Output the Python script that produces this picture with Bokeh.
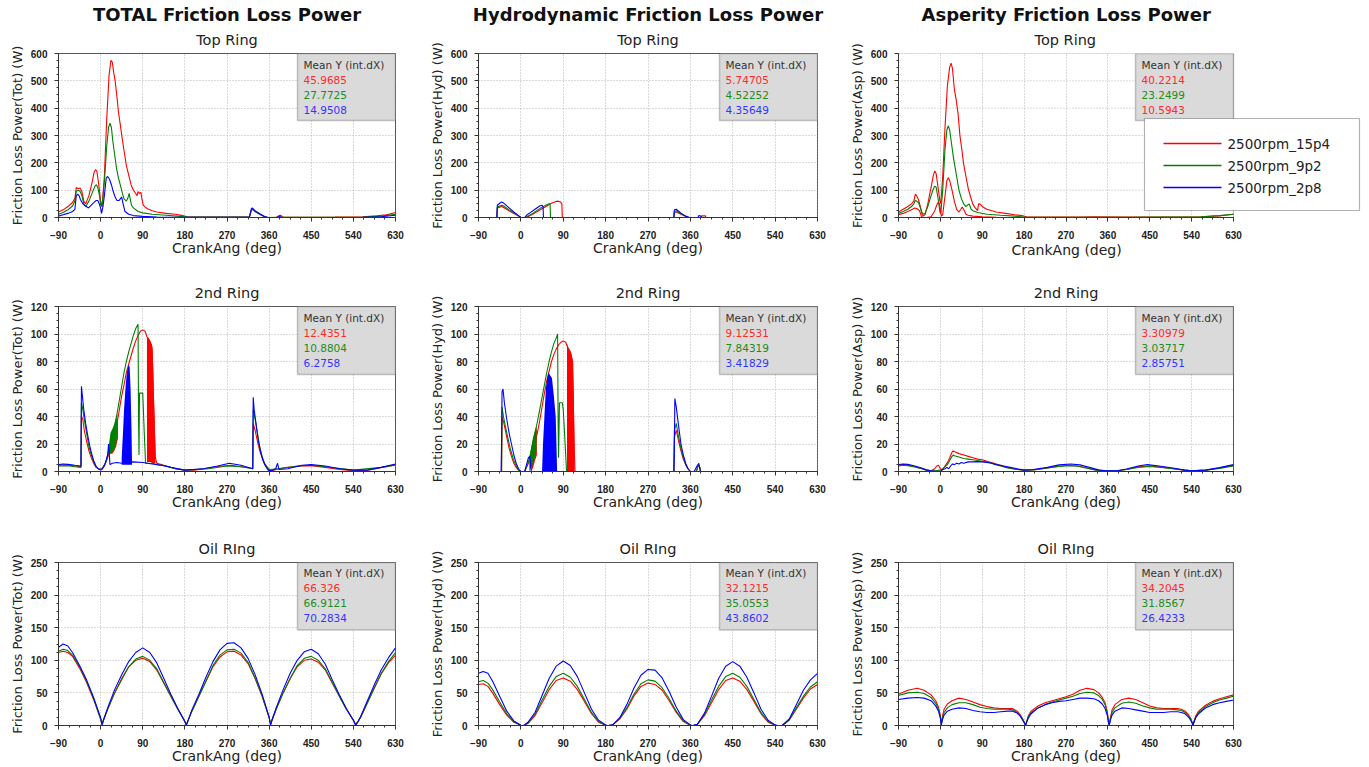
from bokeh.plotting import figure
from bokeh.layouts import row, column
from bokeh.models import Range1d, FixedTicker, Title, Label, BoxAnnotation
from bokeh.embed import file_html
from bokeh.resources import INLINE

# ---------------- text / labels ----------------
SERIES_NAMES = ["2500rpm_15p4", "2500rpm_9p2", "2500rpm_2p8"]
HEADERS = ["TOTAL Friction Loss Power", "Hydrodynamic Friction Loss Power", "Asperity Friction Loss Power"]
RING_TITLES = ["Top Ring", "2nd Ring", "Oil RIng"]
Y_LABELS = ["Friction Loss Power(Tot) (W)", "Friction Loss Power(Hyd) (W)", "Friction Loss Power(Asp) (W)"]
X_LABEL = "CrankAng (deg)"
MEAN_TITLE = "Mean Y (int.dX)"

X_TICKS = [-90, 0, 90, 180, 270, 360, 450, 540, 630]
X_MINOR = [-90, -67.5, -45, -22.5, 0, 22.5, 45, 67.5, 90, 112.5, 135, 157.5, 180, 202.5, 225, 247.5,
           270, 292.5, 315, 337.5, 360, 382.5, 405, 427.5, 450, 472.5, 495, 517.5, 540, 562.5, 585, 607.5, 630]
Y_TICKS = [[0, 100, 200, 300, 400, 500, 600], [0, 20, 40, 60, 80, 100, 120], [0, 50, 100, 150, 200, 250]]
Y_MINOR = [[0, 25, 50, 75, 100, 125, 150, 175, 200, 225, 250, 275, 300, 325, 350, 375, 400, 425, 450, 475, 500, 525, 550, 575, 600],
           [0, 5, 10, 15, 20, 25, 30, 35, 40, 45, 50, 55, 60, 65, 70, 75, 80, 85, 90, 95, 100, 105, 110, 115, 120],
           [0, 12.5, 25, 37.5, 50, 62.5, 75, 87.5, 100, 112.5, 125, 137.5, 150, 162.5, 175, 187.5, 200, 212.5, 225, 237.5, 250]]
Y_MAX = [600, 120, 250]

# Mean Y (int.dX) values [row][series]
TOT_MEANS = [["45.9685", "27.7725", "14.9508"], ["12.4351", "10.8804", "6.2758"], ["66.326", "66.9121", "70.2834"]]
HYD_MEANS = [["5.74705", "4.52252", "4.35649"], ["9.12531", "7.84319", "3.41829"], ["32.1215", "35.0553", "43.8602"]]
ASP_MEANS = [["40.2214", "23.2499", "10.5943"], ["3.30979", "3.03717", "2.85751"], ["34.2045", "31.8567", "26.4233"]]

# ---------------- TOTAL: Top ring ----------------
TOT_TOP_R_X = [-90, -80, -70, -60, -55, -52, -48, -44, -40, -36, -32, -25, -18, -14, -11, -8, -4, 0, 3, 8, 13, 18, 22, 25, 28, 31, 35, 38, 42, 45, 50, 55, 60, 65, 70, 75, 78, 80, 83, 86, 88, 91, 95, 100, 110, 120, 140, 160, 175, 185, 200, 250, 300, 318, 322, 324, 330, 340, 350, 355, 375, 380, 384, 390, 420, 500, 560, 590, 610, 620, 630]
TOT_TOP_R_Y = [20, 28, 40, 55, 70, 110, 105, 108, 95, 60, 50, 80, 130, 165, 175, 170, 120, 60, 40, 150, 360, 520, 575, 568, 530, 500, 440, 387, 340, 302, 245, 190, 155, 120, 100, 88, 80, 95, 88, 92, 70, 45, 38, 32, 25, 20, 15, 12, 7, 3, 2, 2, 2, 3, 28, 32, 22, 12, 3, 0, 0, 6, 8, 2, 1, 2, 3, 6, 10, 14, 18]
TOT_TOP_G_X = [-90, -80, -70, -60, -55, -52, -48, -44, -40, -36, -32, -25, -18, -12, -9, -6, -2, 0, 3, 8, 13, 17, 20, 23, 26, 30, 34, 38, 42, 46, 50, 55, 58, 61, 63, 66, 70, 80, 90, 110, 140, 170, 185, 300, 318, 322, 324, 330, 340, 350, 358, 380, 420, 500, 560, 600, 630]
TOT_TOP_G_Y = [12, 18, 28, 42, 60, 95, 100, 96, 80, 50, 40, 60, 90, 115, 120, 110, 75, 45, 40, 130, 260, 330, 345, 330, 280, 230, 180, 145, 119, 92, 68, 60, 70, 88, 70, 45, 35, 22, 17, 12, 8, 4, 2, 2, 3, 25, 30, 22, 12, 4, 0, 1, 1, 1, 2, 5, 12]
TOT_TOP_B_X = [-90, -80, -70, -60, -55, -52, -49, -46, -43, -38, -32, -26, -20, -14, -10, -6, -3, 0, 2, 5, 8, 12, 15, 19, 23, 27, 31, 35, 39, 42, 45, 48, 52, 60, 70, 90, 120, 180, 300, 318, 322, 324, 330, 340, 350, 358, 378, 382, 386, 420, 560, 600, 630]
TOT_TOP_B_Y = [5, 10, 15, 22, 30, 80, 85, 80, 65, 50, 42, 35, 45, 55, 62, 62, 50, 35, 15, 40, 80, 145, 150, 140, 120, 95, 75, 62, 62, 68, 75, 50, 22, 12, 7, 4, 2, 1, 1, 2, 32, 35, 25, 14, 4, 0, 0, 5, 1, 0, 1, 3, 8]

# ---------------- TOTAL: 2nd ring ----------------
TOT_2ND_R_X = [-90, -70, -55, -42, -41, -38, -35, -30, -25, -20, -15, -10, -5, 0, 5, 10, 15, 20, 25, 30, 35, 40, 45, 50, 55, 60, 65, 70, 75, 80, 85, 90, 95, 99, 105, 110, 114, 117, 120, 130, 140, 160, 180, 200, 230, 260, 280, 300, 320, 325, 326, 330, 335, 340, 345, 350, 355, 360, 370, 380, 400, 430, 450, 480, 510, 540, 570, 600, 630]
TOT_2ND_R_Y = [4.5, 4.8, 4, 3.5, 40, 38, 30, 22, 15, 10, 6, 3, 2, 1.5, 3, 6, 10, 16, 22, 28, 35, 45, 55, 63, 72, 78, 84, 90, 95, 99, 102, 103, 102, 98, 95, 90, 40, 10, 6, 5, 4, 2, 1, 1, 2.5, 4, 4.5, 3.5, 2.5, 2, 35, 30, 22, 15, 10, 6, 3, 1, 1, 2, 3, 4, 4.2, 3, 1.5, 0.5, 1, 3, 5]
TOT_2ND_G_X = [-90, -70, -55, -42, -41, -38, -35, -30, -25, -20, -15, -10, -5, 0, 5, 10, 15, 20, 25, 30, 35, 40, 45, 50, 55, 60, 65, 70, 75, 80, 81, 82, 83, 90, 93, 96, 100, 110, 120, 140, 160, 180, 230, 270, 300, 325, 326, 330, 335, 340, 345, 350, 360, 380, 420, 450, 480, 540, 600, 630]
TOT_2ND_G_Y = [4, 4.2, 3.5, 3, 50, 45, 38, 28, 18, 12, 7, 4, 2, 1.5, 3, 6, 12, 20, 27, 34, 42, 52, 62, 72, 80, 87, 93, 99, 104, 107, 40, 12, 57, 57, 30, 6, 6, 6, 5, 4, 2, 1, 2, 4, 3.5, 2, 45, 38, 28, 18, 11, 6, 1.5, 2, 4, 4.5, 3.5, 1, 3, 4.5]
TOT_2ND_B_X = [-90, -80, -70, -55, -42, -41, -39, -36, -32, -28, -24, -20, -15, -10, -5, 0, 3, 8, 12, 15, 17, 20, 25, 35, 45, 70, 90, 110, 130, 150, 180, 220, 250, 275, 300, 325, 326, 328, 332, 337, 342, 347, 352, 358, 365, 374, 378, 381, 400, 430, 450, 480, 510, 540, 570, 600, 630]
TOT_2ND_B_Y = [5, 5.5, 5.2, 4.5, 4, 62, 55, 45, 35, 27, 20, 14, 8, 4, 2, 1, 1.5, 4, 8, 12, 20, 5, 6, 6.5, 6, 7, 6.5, 5.5, 4.5, 3, 1, 2, 4, 6, 4.5, 2, 54, 45, 35, 22, 14, 8, 4, 1, 0.5, 2, 6, 1.5, 2, 4.5, 5, 4, 2, 1, 1, 3, 5.5]
# dense-oscillation envelopes (drawn as filled bands)
TOT_2ND_R_BAND1_X = [21, 25, 29, 33, 37]
TOT_2ND_R_BAND1_LO = [13, 13, 15, 18, 24]
TOT_2ND_R_BAND1_HI = [16, 26, 30, 34, 38]
TOT_2ND_G_BAND_X = [18, 21, 25, 29, 33, 36]
TOT_2ND_G_BAND_LO = [12, 13, 14, 16, 20, 26]
TOT_2ND_G_BAND_HI = [20, 28, 31, 34, 38, 42]
TOT_2ND_R_BAND2_X = [99, 103, 107, 110, 112, 114, 116, 117]
TOT_2ND_R_BAND2_LO = [7, 7, 7, 6, 6, 6, 6, 6]
TOT_2ND_R_BAND2_HI = [98, 97, 94, 92, 80, 55, 30, 15]
TOT_2ND_B_BAND_X = [45, 48, 50, 53, 56, 60, 62, 64, 66, 67]
TOT_2ND_B_BAND_LO = [5, 5, 5, 5, 5, 5, 5, 5, 5, 5]
TOT_2ND_B_BAND_HI = [10, 30, 45, 60, 72, 78, 76, 60, 30, 8]

# ---------------- Oil ring grid (TOTAL & HYD) ----------------
OIL_X = [-90, -80, -70, -60, -45, -30, -15, 0, 3, 6, 15, 30, 45, 60, 75, 90, 105, 120, 135, 150, 165, 180, 183, 186, 195, 210, 225, 240, 255, 270, 285, 300, 315, 330, 345, 360, 363, 366, 375, 390, 405, 420, 435, 450, 465, 480, 495, 510, 525, 540, 545, 550, 555, 570, 585, 600, 615, 630]
TOT_OIL_R = [112, 114, 112, 106, 88, 66, 40, 10, 3, 8, 25, 50, 72, 90, 100, 103, 98, 85, 65, 45, 25, 6, 2, 6, 22, 45, 68, 90, 105, 113, 114, 108, 95, 72, 45, 12, 3, 8, 25, 50, 72, 90, 100, 102, 97, 85, 65, 45, 25, 8, 2, 6, 12, 35, 58, 80, 96, 108]
TOT_OIL_G = [114, 117, 115, 108, 90, 68, 41, 10, 2, 8, 25, 50, 70, 90, 102, 106, 100, 87, 66, 45, 25, 6, 1, 6, 22, 45, 68, 92, 108, 116, 117, 111, 97, 73, 45, 12, 2, 8, 25, 50, 72, 92, 103, 106, 100, 87, 66, 45, 25, 8, 1, 6, 12, 35, 58, 80, 98, 112]
TOT_OIL_B = [120, 125, 122, 112, 92, 70, 43, 12, 0, 8, 27, 55, 78, 98, 112, 119, 112, 96, 72, 48, 26, 6, 0, 6, 24, 48, 74, 98, 116, 126, 127, 119, 103, 78, 48, 13, 0, 8, 27, 55, 80, 100, 113, 117, 110, 94, 70, 47, 26, 8, 0, 6, 13, 38, 63, 86, 104, 119]
HYD_OIL_R = [63, 64, 60, 50, 32, 16, 5, 0.5, 0, 0, 3, 15, 35, 55, 69, 73, 68, 55, 37, 18, 5, 0.5, 0, 0, 1, 10, 25, 45, 60, 65, 63, 54, 38, 20, 6, 0.5, 0, 0, 2, 15, 35, 55, 69, 73, 68, 55, 37, 18, 5, 0.5, 0, 0, 0, 8, 25, 42, 56, 63]
HYD_OIL_G = [67, 69, 65, 55, 36, 18, 6, 0.5, 0, 0, 4, 17, 39, 60, 75, 80, 74, 60, 40, 20, 6, 0.5, 0, 0, 1, 11, 27, 48, 64, 70, 68, 58, 41, 22, 7, 0.5, 0, 0, 2, 17, 39, 60, 75, 80, 74, 60, 40, 20, 6, 0.5, 0, 0, 0, 9, 27, 45, 59, 67]
HYD_OIL_B = [80, 83, 80, 68, 45, 22, 7, 0.5, 0, 0, 5, 20, 46, 72, 91, 99, 92, 75, 50, 25, 8, 1, 0, 0, 1, 12, 32, 57, 77, 86, 85, 73, 52, 28, 9, 1, 0, 0, 2, 19, 45, 72, 91, 98, 91, 74, 50, 25, 8, 1, 0, 0, 0, 10, 32, 54, 70, 80]

# ---------------- HYD: Top ring ----------------
HYD_TOP_R_X = [-90, -51, -50, -45, -40, -35, -25, -15, -5, 0, 10, 15, 25, 35, 45, 55, 65, 72, 78, 84, 87, 88, 325, 326, 330, 340, 350, 356, 383, 384, 392, 393, 630]
HYD_TOP_R_Y = [0, 0, 35, 38, 40, 35, 25, 15, 5, 0, 0, 3, 12, 22, 32, 42, 52, 57, 60, 57, 50, 0, 0, 18, 20, 12, 4, 0, 0, 6, 6, 0, 0]
HYD_TOP_G_X = [-90, -51, -50, -45, -40, -35, -25, -15, -5, 0, 10, 15, 25, 35, 45, 55, 60, 62, 63, 325, 326, 330, 340, 350, 357, 630]
HYD_TOP_G_Y = [0, 0, 38, 42, 45, 40, 28, 17, 6, 0, 0, 5, 15, 27, 38, 47, 50, 50, 0, 0, 22, 25, 14, 5, 0, 0]
HYD_TOP_B_X = [-90, -51, -50, -45, -41, -36, -25, -15, -5, 0, 8, 12, 20, 30, 40, 45, 47, 48, 325, 326, 330, 340, 350, 358, 376, 378, 382, 384, 630]
HYD_TOP_B_Y = [0, 0, 45, 52, 57, 52, 35, 20, 7, 0, 0, 8, 18, 30, 42, 45, 40, 0, 0, 28, 30, 16, 5, 0, 0, 7, 5, 0, 0]

# ---------------- HYD: 2nd ring ----------------
HYD_2ND_R_X = [-90, -41, -40, -36, -30, -25, -20, -15, -10, -5, 0, 8, 12, 16, 20, 25, 30, 35, 40, 45, 50, 55, 60, 65, 70, 75, 80, 85, 90, 95, 100, 105, 110, 113, 115, 325, 326, 330, 335, 340, 345, 350, 355, 360, 372, 376, 380, 382, 630]
HYD_2ND_R_Y = [0, 0, 40, 35, 25, 17, 11, 6, 3, 1, 0, 0, 3, 6, 8, 12, 20, 28, 37, 47, 57, 66, 73, 80, 85, 89, 92, 94, 95, 94, 90, 87, 80, 20, 0, 0, 25, 30, 22, 15, 9, 5, 2, 0, 0, 4, 3, 0, 0]
HYD_2ND_G_X = [-90, -41, -40, -37, -33, -28, -22, -16, -10, -5, 0, 8, 12, 16, 20, 25, 30, 35, 40, 45, 50, 55, 60, 65, 70, 75, 78, 79, 80, 82, 88, 90, 94, 97, 325, 326, 330, 335, 340, 345, 350, 355, 360, 373, 377, 380, 382, 630]
HYD_2ND_G_Y = [0, 0, 47, 40, 33, 25, 16, 9, 4, 1, 0, 0, 3, 7, 12, 20, 28, 36, 45, 54, 63, 72, 80, 87, 93, 97, 100, 40, 10, 50, 50, 45, 20, 0, 0, 30, 35, 25, 17, 10, 5, 2, 0, 0, 5, 3, 0, 0]
HYD_2ND_B_X = [-90, -42, -41, -40, -38, -35, -30, -25, -20, -15, -10, -5, 0, 8, 12, 16, 19, 22, 325, 326, 327, 330, 335, 340, 345, 350, 355, 360, 368, 374, 378, 381, 630]
HYD_2ND_B_Y = [0, 0, 22, 58, 60, 50, 38, 28, 20, 12, 6, 2, 0, 0, 5, 10, 11, 0, 0, 15, 53, 47, 33, 20, 12, 6, 2, 0, 0, 4, 6, 0, 0]
HYD_2ND_R_BAND1_X = [22, 26, 30, 34]
HYD_2ND_R_BAND1_LO = [0, 3, 8, 12]
HYD_2ND_R_BAND1_HI = [10, 20, 28, 32]
HYD_2ND_G_BAND_X = [18, 22, 26, 30, 33]
HYD_2ND_G_BAND_LO = [0, 3, 6, 10, 15]
HYD_2ND_G_BAND_HI = [10, 18, 25, 30, 33]
HYD_2ND_R_BAND2_X = [98, 101, 104, 107, 110, 112, 114]
HYD_2ND_R_BAND2_LO = [0, 0, 0, 0, 0, 0, 0]
HYD_2ND_R_BAND2_HI = [93, 90, 88, 86, 80, 60, 20]
HYD_2ND_B_BAND_X = [45, 47, 50, 53, 56, 59, 62, 66, 70, 74, 77]
HYD_2ND_B_BAND_LO = [0, 0, 0, 0, 0, 0, 0, 0, 0, 0, 0]
HYD_2ND_B_BAND_HI = [0, 20, 40, 60, 68, 72, 70, 68, 55, 40, 0]

# ---------------- ASP: Top ring ----------------
ASP_TOP_R_X = [-90, -80, -70, -62, -57, -54, -51, -47, -43, -40, -37, -33, -27, -20, -15, -12, -9, -5, -1, 1, 5, 10, 15, 20, 23, 26, 30, 34, 38, 42, 46, 50, 55, 60, 65, 70, 75, 80, 82, 86, 90, 95, 100, 120, 140, 160, 175, 185, 200, 300, 330, 400, 560, 600, 620, 630]
ASP_TOP_R_Y = [20, 30, 40, 50, 60, 85, 80, 65, 40, 15, 5, 10, 50, 110, 155, 170, 160, 110, 60, 50, 150, 330, 480, 550, 565, 545, 470, 430, 380, 300, 250, 195, 150, 105, 75, 48, 35, 25, 50, 48, 40, 35, 30, 20, 15, 10, 7, 3, 2, 2, 3, 2, 3, 6, 10, 12]
ASP_TOP_G_X = [-90, -80, -70, -62, -57, -54, -51, -47, -43, -40, -37, -33, -27, -20, -15, -12, -9, -5, -1, 1, 5, 10, 14, 17, 20, 24, 28, 32, 36, 40, 45, 50, 55, 58, 62, 66, 70, 80, 100, 130, 160, 180, 220, 400, 560, 600, 630]
ASP_TOP_G_Y = [15, 22, 30, 40, 50, 62, 60, 55, 35, 20, 12, 15, 40, 80, 105, 115, 110, 70, 20, 15, 100, 250, 320, 335, 320, 270, 220, 180, 140, 100, 70, 50, 40, 45, 50, 30, 25, 18, 12, 8, 5, 2, 1, 1, 3, 7, 12]
ASP_TOP_B_X = [-90, -80, -70, -60, -55, -50, -45, -41, -38, -30, -20, -12, -8, -5, -2, 0, 2, 5, 10, 14, 17, 20, 25, 30, 35, 40, 44, 47, 50, 55, 60, 70, 90, 120, 180, 630]
ASP_TOP_B_Y = [10, 15, 22, 30, 35, 32, 25, 5, 0, 0, 3, 25, 45, 55, 50, 30, 5, 10, 80, 135, 145, 135, 100, 60, 30, 20, 30, 38, 30, 12, 8, 5, 3, 1, 0, 0]

# ---------------- ASP: 2nd ring ----------------
ASP_2ND_R_X = [-90, -80, -70, -55, -40, -30, -20, -12, -8, -4, 0, 5, 8, 12, 16, 20, 25, 27, 30, 40, 50, 60, 70, 80, 90, 100, 110, 120, 130, 140, 150, 165, 180, 200, 230, 255, 275, 295, 315, 335, 350, 380, 400, 425, 450, 475, 500, 525, 540, 570, 600, 630]
ASP_2ND_R_Y = [4.5, 5, 4.8, 3.5, 2, 1, 0.5, 2, 4, 4.5, 2, 1, 3, 5, 7, 10, 14, 15, 14.5, 13, 12, 11, 10, 9, 8.5, 7.5, 6.5, 5.5, 4.5, 3.5, 2.5, 1.5, 1, 1.2, 2.5, 3.8, 4.5, 4, 2.5, 1, 0.5, 0.5, 1.5, 3.5, 4, 3.2, 2, 1, 0.5, 1, 2.5, 4.5]
ASP_2ND_G_X = [-90, -80, -70, -55, -40, -30, -20, -10, 0, 5, 10, 15, 20, 25, 28, 30, 40, 50, 60, 70, 80, 90, 100, 110, 120, 130, 140, 150, 165, 180, 200, 230, 255, 275, 295, 315, 335, 350, 380, 400, 425, 450, 475, 500, 525, 540, 570, 600, 630]
ASP_2ND_G_Y = [4, 4.5, 4.3, 3.3, 2, 1, 0.5, 0.5, 1, 2, 3.5, 5, 8, 11, 12, 11.5, 10.5, 9.5, 9, 8.5, 8, 7.5, 7, 6, 5, 4, 3, 2.2, 1.4, 1, 1.2, 2.5, 3.7, 4.2, 3.8, 2.4, 1, 0.5, 0.5, 1.4, 3, 3.6, 3, 2, 1, 0.5, 1, 2.3, 4]
ASP_2ND_B_X = [-90, -80, -70, -55, -40, -30, -20, -10, 0, 5, 10, 14, 18, 22, 26, 30, 35, 40, 45, 50, 60, 70, 80, 90, 100, 110, 120, 135, 150, 165, 180, 200, 230, 255, 280, 300, 320, 340, 355, 380, 400, 425, 445, 470, 500, 525, 540, 570, 600, 630]
ASP_2ND_B_Y = [5, 5.5, 5.2, 4, 2.5, 1.2, 0.5, 0.2, 0, 1.5, 2, 3, 2, 4, 5.5, 5, 6, 5.5, 6.5, 6, 7, 7, 7.2, 7, 6.5, 6, 5, 4, 3, 2, 1, 1.5, 3, 4.8, 5.5, 4.8, 3, 1.2, 0.5, 0.5, 1.8, 4, 5, 4, 2.5, 1, 0.5, 1, 2.8, 5]

# ---------------- ASP: Oil ring ----------------
ASP_OIL_X = [-90, -70, -50, -35, -20, -10, -4, 0, 2, 4, 8, 15, 25, 40, 55, 70, 85, 100, 115, 130, 145, 155, 165, 172, 177, 181, 183, 185, 189, 195, 210, 225, 240, 255, 270, 285, 300, 315, 330, 340, 348, 354, 359, 361, 363, 365, 369, 375, 390, 405, 420, 435, 450, 465, 480, 495, 510, 518, 526, 533, 538, 541, 543, 545, 549, 555, 570, 585, 600, 615, 630]
ASP_OIL_R = [48, 54, 57, 54, 47, 38, 28, 15, 1, 12, 25, 33, 38, 42, 40, 36, 32, 29, 27, 26, 26, 26, 22, 16, 10, 4, 1, 5, 15, 22, 30, 35, 38, 41, 44, 48, 54, 57, 55, 50, 43, 35, 20, 8, 1, 10, 24, 32, 40, 42, 40, 35, 30, 27, 26, 26, 26, 25, 22, 17, 11, 5, 1, 6, 15, 22, 31, 37, 41, 44, 47]
ASP_OIL_G = [46, 50, 51, 49, 43, 34, 25, 13, 1, 10, 20, 27, 32, 35, 35, 32, 28, 26, 25, 25, 25, 24, 20, 15, 9, 4, 1, 5, 13, 20, 27, 32, 36, 39, 42, 45, 49, 51, 50, 46, 40, 32, 18, 7, 1, 9, 20, 27, 34, 36, 34, 30, 27, 25, 25, 25, 24, 23, 20, 15, 10, 5, 1, 6, 13, 20, 29, 35, 39, 42, 45]
ASP_OIL_B = [40, 42, 43, 42, 38, 30, 22, 11, 1, 8, 16, 22, 25, 27, 26, 23, 21, 20, 20, 21, 22, 22, 19, 14, 8, 3, 0, 4, 11, 18, 27, 32, 35, 37, 38, 40, 42, 42, 41, 38, 33, 26, 15, 6, 0, 7, 16, 22, 27, 26, 24, 22, 20, 20, 20, 21, 21, 20, 18, 13, 8, 4, 0, 5, 12, 18, 27, 32, 35, 37, 39]

# ---------------- styling ----------------
FONT = "DejaVu Sans"
TICK_FONT = "Liberation Sans"
RED, GREEN, BLUE = "#ff0000", "#008000", "#0000ff"
TXT = {RED: "#ff2a2a", GREEN: "#1c8c1c", BLUE: "#3434ff"}
LEGEND_COLORS = [RED, GREEN, BLUE]
GRID_COLOR = "#b4b4b4"
FRAME_COLOR = "#555555"

COL_W = [420, 420, 525]
LEFT = 58
RIGHT = [25, 23, 132]
ROW_H = [270, 250, 246]
TOP = [53, 36, 42]
BOTTOM = [53, 49, 40]
BOX_W = 98
BOX_H = [67, 68, 68]
# column-3 / top-ring panel: frame extended to the right so the legend can overhang the plot area
EXT_PANEL = (2, 0)
EXT_HEADER_OFFSET = 23
EXT_SUB_OFFSET = 136
EXT_XLABEL_OFFSET = 113
# legend geometry, pixels from the plot area's top-left corner
LEG_LEFT, LEG_TOP, LEG_W, LEG_H = 246, 65, 215, 92
LEG_LINE_X0, LEG_LINE_LEN, LEG_TEXT_X = 19, 58, 83
LEG_ROWS = [25, 47, 69]

PANELS = {
    (0, 0): dict(lines=[(TOT_TOP_R_X, TOT_TOP_R_Y, RED), (TOT_TOP_G_X, TOT_TOP_G_Y, GREEN), (TOT_TOP_B_X, TOT_TOP_B_Y, BLUE)],
                 bands=[], means=TOT_MEANS[0], mcol=[RED, GREEN, BLUE]),
    (0, 1): dict(lines=[(TOT_2ND_R_X, TOT_2ND_R_Y, RED), (TOT_2ND_G_X, TOT_2ND_G_Y, GREEN), (TOT_2ND_B_X, TOT_2ND_B_Y, BLUE)],
                 bands=[(TOT_2ND_R_BAND1_X, TOT_2ND_R_BAND1_LO, TOT_2ND_R_BAND1_HI, 0),
                        (TOT_2ND_R_BAND2_X, TOT_2ND_R_BAND2_LO, TOT_2ND_R_BAND2_HI, 0),
                        (TOT_2ND_G_BAND_X, TOT_2ND_G_BAND_LO, TOT_2ND_G_BAND_HI, 1),
                        (TOT_2ND_B_BAND_X, TOT_2ND_B_BAND_LO, TOT_2ND_B_BAND_HI, 2)],
                 means=TOT_MEANS[1], mcol=[RED, GREEN, BLUE]),
    (0, 2): dict(lines=[(OIL_X, TOT_OIL_R, RED), (OIL_X, TOT_OIL_G, GREEN), (OIL_X, TOT_OIL_B, BLUE)],
                 bands=[], means=TOT_MEANS[2], mcol=[RED, GREEN, BLUE]),
    (1, 0): dict(lines=[(HYD_TOP_R_X, HYD_TOP_R_Y, RED), (HYD_TOP_G_X, HYD_TOP_G_Y, GREEN), (HYD_TOP_B_X, HYD_TOP_B_Y, BLUE)],
                 bands=[], means=HYD_MEANS[0], mcol=[RED, GREEN, BLUE]),
    (1, 1): dict(lines=[(HYD_2ND_R_X, HYD_2ND_R_Y, RED), (HYD_2ND_G_X, HYD_2ND_G_Y, GREEN), (HYD_2ND_B_X, HYD_2ND_B_Y, BLUE)],
                 bands=[(HYD_2ND_R_BAND1_X, HYD_2ND_R_BAND1_LO, HYD_2ND_R_BAND1_HI, 0),
                        (HYD_2ND_R_BAND2_X, HYD_2ND_R_BAND2_LO, HYD_2ND_R_BAND2_HI, 0),
                        (HYD_2ND_G_BAND_X, HYD_2ND_G_BAND_LO, HYD_2ND_G_BAND_HI, 1),
                        (HYD_2ND_B_BAND_X, HYD_2ND_B_BAND_LO, HYD_2ND_B_BAND_HI, 2)],
                 means=HYD_MEANS[1], mcol=[RED, GREEN, BLUE]),
    (1, 2): dict(lines=[(OIL_X, HYD_OIL_R, RED), (OIL_X, HYD_OIL_G, GREEN), (OIL_X, HYD_OIL_B, BLUE)],
                 bands=[], means=HYD_MEANS[2], mcol=[RED, GREEN, BLUE]),
    (2, 0): dict(lines=[(ASP_TOP_R_X, ASP_TOP_R_Y, RED), (ASP_TOP_G_X, ASP_TOP_G_Y, GREEN), (ASP_TOP_B_X, ASP_TOP_B_Y, RED)],
                 bands=[], means=ASP_MEANS[0], mcol=[RED, GREEN, RED]),
    (2, 1): dict(lines=[(ASP_2ND_R_X, ASP_2ND_R_Y, RED), (ASP_2ND_G_X, ASP_2ND_G_Y, GREEN), (ASP_2ND_B_X, ASP_2ND_B_Y, BLUE)],
                 bands=[], means=ASP_MEANS[1], mcol=[RED, GREEN, BLUE]),
    (2, 2): dict(lines=[(ASP_OIL_X, ASP_OIL_R, RED), (ASP_OIL_X, ASP_OIL_G, GREEN), (ASP_OIL_X, ASP_OIL_B, BLUE)],
                 bands=[], means=ASP_MEANS[2], mcol=[RED, GREEN, BLUE]),
}


def make_panel(c, r):
    spec = PANELS[(c, r)]
    ymax = Y_MAX[r]
    ext = (c, r) == EXT_PANEL
    fw_data = COL_W[c] - LEFT - RIGHT[c]          # pixels covered by -90..630
    right_b = 0 if ext else RIGHT[c]
    fw = COL_W[c] - LEFT - right_b
    fh = ROW_H[r] - TOP[r] - BOTTOM[r]
    dx = 720.0 / fw_data
    dy = ymax / fh
    x0 = X_TICKS[0]
    x_end = x0 + fw * dx

    def px_x(off):      # pixel offset from plot-area left -> data x
        return x0 + off * dx

    def px_y(off):      # pixel offset from plot-area top -> data y
        return ymax - off * dy

    p = figure(width=COL_W[c], height=ROW_H[r], x_range=Range1d(x0, x_end), y_range=Range1d(0, ymax),
               output_backend="svg", toolbar_location=None, title=None,
               min_border_left=LEFT, min_border_right=right_b,
               min_border_top=TOP[r], min_border_bottom=BOTTOM[r])
    p.background_fill_color = "white"
    p.border_fill_color = "white"
    p.outline_line_color = None if ext else FRAME_COLOR
    p.outline_line_width = 1

    xt = FixedTicker(ticks=X_TICKS, minor_ticks=X_MINOR)
    yt = FixedTicker(ticks=Y_TICKS[r], minor_ticks=Y_MINOR[r])
    p.xaxis.ticker = xt
    p.yaxis.ticker = yt
    p.xgrid.ticker = xt
    p.ygrid.ticker = yt
    for g in (p.xgrid, p.ygrid):
        g.grid_line_color = GRID_COLOR
        g.grid_line_dash = "1 2"
        g.grid_line_width = 1
    if ext:
        p.xaxis.bounds = (X_TICKS[0], X_TICKS[-1])
        p.ygrid.visible = False
        p.multi_line(xs=[[X_TICKS[0], X_TICKS[-1]] for _ in Y_TICKS[r]], ys=[[t, t] for t in Y_TICKS[r]],
                     line_color=GRID_COLOR, line_dash="1 2", line_width=1)

    for ax in (p.xaxis, p.yaxis):
        ax.axis_line_color = "#333333"
        ax.major_tick_line_color = "#333333"
        ax.minor_tick_line_color = "#333333"
        ax.major_tick_in = 0
        ax.major_tick_out = 4
        ax.minor_tick_in = 0
        ax.minor_tick_out = 2
        ax.major_label_text_font = TICK_FONT
        ax.major_label_text_font_size = "10px"
        ax.major_label_text_font_style = "bold"
        ax.major_label_text_color = "#222222"
        ax.axis_label_text_font = FONT
        ax.axis_label_text_font_style = "normal"
        ax.axis_label_text_color = "#222222"
    p.xaxis.major_label_standoff = 9
    p.xaxis.axis_label_standoff = -2
    p.xaxis.axis_label_text_font_size = "14px"
    if ext:
        p.add_layout(Title(text=X_LABEL, align="left", offset=EXT_XLABEL_OFFSET, vertical_align="top",
                           standoff=0, text_font=FONT, text_font_size="14px", text_font_style="normal",
                           text_color="#222222"), "below")
    else:
        p.xaxis.axis_label = X_LABEL
    p.yaxis.axis_label = Y_LABELS[c]
    p.yaxis.axis_label_text_font_size = "13px"
    p.yaxis.axis_label_standoff = 3
    p.yaxis.major_label_standoff = 7

    # titles: ring subtitle closest to the frame, column header above it
    sub_kw = dict(text=RING_TITLES[r], text_font=FONT, text_font_size="14.5px", text_font_style="normal",
                  text_color="#222222", standoff=11)
    head_kw = dict(text=HEADERS[c], text_font=FONT, text_font_size="18px", text_font_style="bold",
                   text_color="#111111", standoff=0)
    if ext:
        p.add_layout(Title(align="left", offset=EXT_SUB_OFFSET, **sub_kw), "above")
        p.add_layout(Title(align="left", offset=EXT_HEADER_OFFSET, **head_kw), "above")
    else:
        p.add_layout(Title(align="center", **sub_kw), "above")
        if r == 0:
            p.add_layout(Title(align="center", **head_kw), "above")

    for i, (xs, ys, colr) in enumerate(spec["lines"]):
        p.line(xs, ys, line_color=colr, line_width=1.1)
        for bx, lo, hi, si in spec["bands"]:
            if si == i:
                p.varea(x=bx, y1=lo, y2=hi, fill_color=colr, fill_alpha=1.0)

    if ext:
        # frame border of the plot area (the frame itself is wider)
        p.add_layout(BoxAnnotation(left=X_TICKS[0], right=X_TICKS[-1], bottom=0, top=ymax,
                                   fill_color=None, fill_alpha=0, line_color=FRAME_COLOR, line_width=1))

    # Mean Y box (top-right corner of the plot area)
    left = X_TICKS[-1] - BOX_W * dx
    bottom = ymax - BOX_H[r] * dy
    p.add_layout(BoxAnnotation(left=left, right=X_TICKS[-1], bottom=bottom, top=ymax,
                               fill_color="#dadada", fill_alpha=1.0,
                               line_color="#4a4a4a", line_width=1.5))
    texts = [MEAN_TITLE] + spec["means"]
    colors = ["#333333"] + [TXT[k] for k in spec["mcol"]]
    for i, (t, tc) in enumerate(zip(texts, colors)):
        p.add_layout(Label(x=left + 6 * dx, y=ymax - (11 + 15 * i) * dy, text=t,
                           text_font=FONT, text_font_size="10.5px", text_color=tc,
                           text_baseline="middle", text_align="left"))

    if ext:
        # legend box drawn by hand so that it can overhang the right edge of the plot area
        p.add_layout(BoxAnnotation(left=px_x(LEG_LEFT), right=px_x(LEG_LEFT + LEG_W),
                                   top=px_y(LEG_TOP), bottom=px_y(LEG_TOP + LEG_H),
                                   fill_color="white", fill_alpha=1.0,
                                   line_color="#000000", line_width=1.2))
        for name, colr, ry in zip(SERIES_NAMES, LEGEND_COLORS, LEG_ROWS):
            yy = px_y(LEG_TOP + ry)
            p.line([px_x(LEG_LEFT + LEG_LINE_X0), px_x(LEG_LEFT + LEG_LINE_X0 + LEG_LINE_LEN)], [yy, yy],
                   line_color=colr, line_width=1.4, level="overlay")
            p.add_layout(Label(x=px_x(LEG_LEFT + LEG_TEXT_X), y=yy, text=name,
                               text_font=FONT, text_font_size="13.5px", text_color="#222222",
                               text_baseline="middle", text_align="left"))
    return p


rows = []
for r in range(3):
    rows.append(row(*[make_panel(c, r) for c in range(3)]))
layout = column(*rows)

open("out.html", "w").write(file_html(layout, INLINE, title="Friction Loss Power"))
